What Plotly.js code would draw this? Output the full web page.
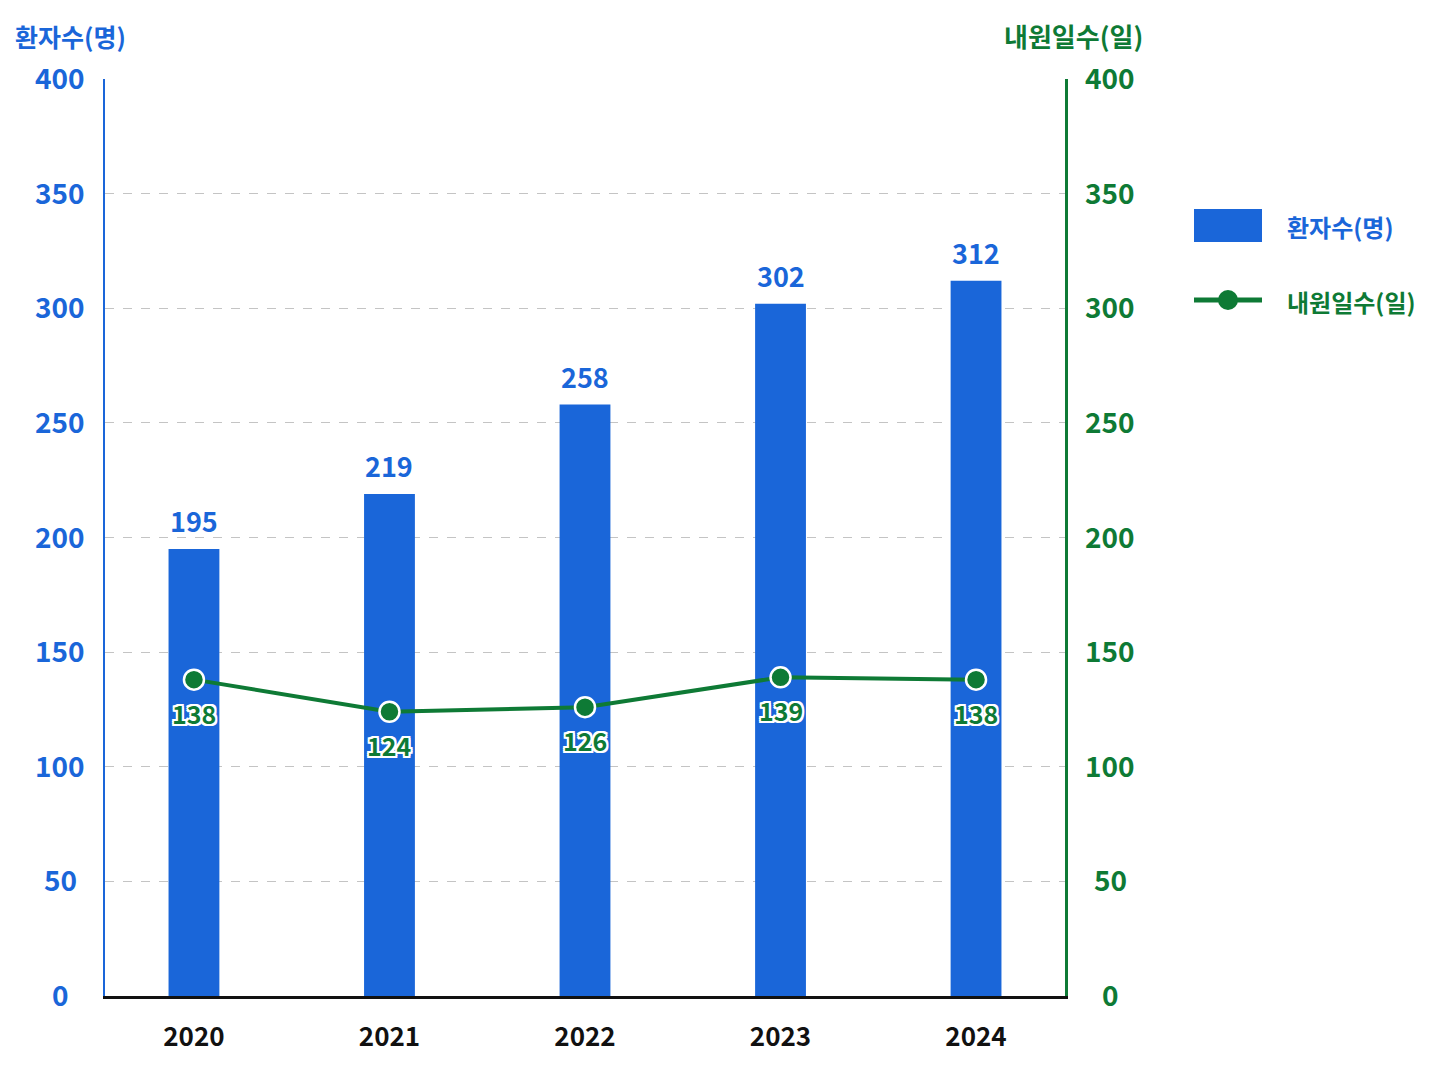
<!DOCTYPE html>
<html><head><meta charset="utf-8">
<script src="https://cdn.plot.ly/plotly-3.0.1.min.js"></script>
<style>html,body{margin:0;padding:0;background:#fff;}#c{width:1448px;height:1086px;}</style>
</head><body><div id="c"></div>
<script>
const years = ['2020','2021','2022','2023','2024'];
const patients = [195, 219, 258, 302, 312];
const visitDays = [138, 124, 126, 139, 138];
const seriesNames = ['환자수(명)', '내원일수(일)'];
const tickVals = [0,50,100,150,200,250,300,350,400];

const BLUE = '#1a66d9', GREEN = '#0e7a35';
const FONT = '"Noto Sans CJK KR", "Noto Sans", sans-serif';
const L = 105, R = 1065, T = 79, B = 996;
const px = x => (x - L) / (R - L);
const py = y => (B - y) / (B - T);
const WHITE_OUTLINE = '2px 0 0 #fff, -2px 0 0 #fff, 0 2px 0 #fff, 0 -2px 0 #fff, 2px 2px 0 #fff, -2px -2px 0 #fff, 2px -2px 0 #fff, -2px 2px 0 #fff';

const traces = [
  {type:'bar', x: years, y: patients, name: seriesNames[0], marker:{color: BLUE}, width:0.26,
   showlegend:false, hoverinfo:'skip'},
  {type:'scatter', mode:'lines+markers', x: years, y: visitDays, yaxis:'y2', name: seriesNames[1],
   line:{color:GREEN, width:4}, marker:{color:GREEN, size:20, line:{color:'#fff', width:2.5}},
   cliponaxis:false, showlegend:false, hoverinfo:'skip'}
];

const barLabels = years.map((yr, i) => ({
  xref:'x', yref:'y', x: i, y: patients[i], yanchor:'middle', yshift:28, showarrow:false,
  text: String(patients[i]), font:{family:FONT, size:27, color:BLUE, weight:700}
}));
const lineLabels = years.map((yr, i) => ({
  xref:'x', yref:'y2', x: i, y: visitDays[i], yanchor:'middle', yshift:-33, showarrow:false,
  text: String(visitDays[i]), font:{family:FONT, size:25, color:GREEN, weight:700, shadow: WHITE_OUTLINE}
}));
// centred tick labels for both value axes
const leftTicks = tickVals.map(v => ({
  xref:'paper', yref:'y', x: px(60), y: v, xanchor:'center', yanchor:'middle', yshift:2, showarrow:false,
  text: String(v), font:{family:FONT, size:28, color:BLUE, weight:700}
}));
const rightTicks = tickVals.map(v => ({
  xref:'paper', yref:'y2', x: px(1110), y: v, xanchor:'center', yanchor:'middle', yshift:2, showarrow:false,
  text: String(v), font:{family:FONT, size:28, color:GREEN, weight:700}
}));

const layout = {
  width:1448, height:1086,
  margin:{l:L, r:1448-R, t:T, b:1086-B, pad:0},
  paper_bgcolor:'#fff', plot_bgcolor:'#fff',
  font:{family:FONT},
  xaxis:{type:'category', range:[-0.455, 4.455], showgrid:false, zeroline:false,
    showline:true, linecolor:'#111', linewidth:2.5, ticks:'', ticklabelstandoff:16,
    tickfont:{family:FONT, size:26, color:'#111', weight:700}},
  yaxis:{range:[0,400], tickvals:tickVals, showticklabels:false, showgrid:true, gridcolor:'#c4c4c4', griddash:'dash', gridwidth:1.2,
    zeroline:false, showline:true, linecolor:BLUE, linewidth:2.5, ticks:''},
  yaxis2:{range:[0,400], tickvals:tickVals, showticklabels:false, overlaying:'y', side:'right', showgrid:false, zeroline:false,
    showline:true, linecolor:GREEN, linewidth:2.5, ticks:''},
  showlegend:false,
  annotations:[
    {xref:'paper', yref:'paper', x:px(13), y:py(36), xanchor:'left', yanchor:'middle', showarrow:false,
     text:seriesNames[0], font:{family:FONT, size:25, color:BLUE, weight:700}},
    {xref:'paper', yref:'paper', x:px(1145), y:py(36), xanchor:'right', yanchor:'middle', showarrow:false,
     text:seriesNames[1], font:{family:FONT, size:26, color:GREEN, weight:700}},
    {xref:'paper', yref:'paper', x:px(1285), y:py(226), xanchor:'left', yanchor:'middle', showarrow:false,
     text:seriesNames[0], font:{family:FONT, size:24, color:BLUE, weight:700}},
    {xref:'paper', yref:'paper', x:px(1285), y:py(301), xanchor:'left', yanchor:'middle', showarrow:false,
     text:seriesNames[1], font:{family:FONT, size:24, color:GREEN, weight:700}}
  ].concat(leftTicks, rightTicks, barLabels, lineLabels),
  shapes:[
    {type:'rect', xref:'paper', yref:'paper', x0:px(1194), x1:px(1262), y0:py(209), y1:py(242), fillcolor:BLUE, line:{width:0}},
    {type:'line', xref:'paper', yref:'paper', x0:px(1194), x1:px(1262), y0:py(300), y1:py(300), line:{color:GREEN, width:5}},
    {type:'circle', xref:'paper', yref:'paper', x0:px(1218), x1:px(1238), y0:py(290), y1:py(310), fillcolor:GREEN, line:{width:0}}
  ]
};
Plotly.newPlot('c', traces, layout, {staticPlot:true, displayModeBar:false});
</script></body></html>
